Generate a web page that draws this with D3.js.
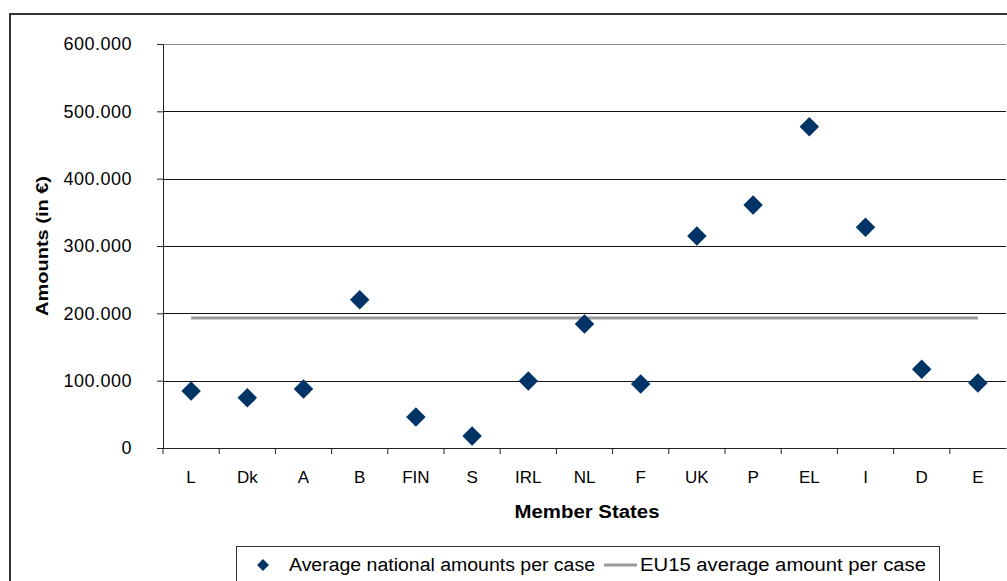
<!DOCTYPE html>
<html>
<head>
<meta charset="utf-8">
<script src="https://cdn.jsdelivr.net/npm/d3@7"></script>
<style>
  body { margin: 0; background: #fff; }
  svg { display: block; font-family: "Liberation Sans", Arial, sans-serif; }
</style>
</head>
<body>
<svg id="viz" width="1007" height="581"></svg>
<script>
// member states, left to right as in the chart
var states = ['L', 'Dk', 'A', 'B', 'FIN', 'S', 'IRL', 'NL', 'F', 'UK', 'P', 'EL', 'I', 'D', 'E'];
// average national amounts per case (in €)
var amounts = [84500, 74500, 87500, 220000, 46000, 18000, 99500, 184000, 95000, 315000, 361000, 477000, 328000, 117000, 96500];
// EU15 average amount per case
var euAverage = [193000];
var yTicks = [0, 100000, 200000, 300000, 400000, 500000, 600000];

var viz = d3.select('#viz');
var plotLeft = 163, plotTop = 44, plotRight = 1006, plotBottom = 448;

// outer frame of the chart, cut off at right and bottom like the original
viz.append('path')
	.attr('d', 'M10,600 L10,14 L1020,14')
	.attr('fill', 'none')
	.attr('stroke', '#333')
	.attr('stroke-width', 2);

var x = d3.scaleBand().domain(states).range([plotLeft, plotRight]);
var y = d3.scaleLinear().domain([0, 600000]).range([plotBottom, plotTop]);

function fmt(v) {
	return v === 0 ? '0' : d3.format(',.0f')(v).replace(/,/g, '.');
}

// gridlines
viz.append('g').selectAll('line')
	.data(yTicks.filter(function(d) { return d > 0; }))
	.enter().append('line')
		.attr('x1', plotLeft).attr('x2', plotRight)
		.attr('y1', function(d) { return Math.round(y(d)) + 0.5; })
		.attr('y2', function(d) { return Math.round(y(d)) + 0.5; })
		.attr('stroke', function(d) { return d === 600000 ? '#888' : '#111'; })
		.attr('stroke-width', 1);

// y axis
var yAxis = viz.append('g')
	.attr('transform', 'translate(' + plotLeft + ',0)')
	.call(d3.axisLeft(y).tickValues(yTicks).tickFormat(fmt).tickSizeOuter(0).tickSize(6).tickPadding(25));
yAxis.select('.domain').attr('stroke', '#222');
yAxis.selectAll('line').attr('stroke', '#222');
yAxis.selectAll('text').attr('font-size', 18).attr('fill', '#000')
	.attr('letter-spacing', 0.5)
	.attr('font-family', '"Liberation Sans", Arial, sans-serif');

// x axis with ticks at band edges
var xAxis = viz.append('g')
	.attr('transform', 'translate(0,' + plotBottom + ')')
	.call(d3.axisBottom(x).tickSize(0).tickPadding(23));
xAxis.select('.domain').attr('stroke', '#222');
xAxis.selectAll('text').attr('font-size', 17).attr('fill', '#000')
	.attr('font-family', '"Liberation Sans", Arial, sans-serif');
viz.append('g').selectAll('line')
	.data(states)
	.enter().append('line')
		.attr('x1', function(d) { return x(d); })
		.attr('x2', function(d) { return x(d); })
		.attr('y1', plotBottom).attr('y2', plotBottom + 6)
		.attr('stroke', '#222');

// EU15 average line
var avgLine = d3.line()
	.x(function(d) { return x(d) + x.bandwidth() / 2; })
	.y(function() { return y(euAverage[0]); });
viz.append('path')
	.datum([states[0], states[states.length - 1]])
	.attr('d', avgLine)
	.attr('fill', 'none')
	.attr('stroke', '#999')
	.attr('stroke-width', 3);

// diamonds
var diamond = d3.symbol().type(d3.symbolSquare).size(190);
viz.append('g').selectAll('path')
	.data(states)
	.enter().append('path')
		.attr('d', diamond)
		.attr('transform', function(d, i) {
			return 'translate(' + (x(d) + x.bandwidth() / 2) + ',' + y(amounts[i]) + ') rotate(45)';
		})
		.attr('fill', '#003366');

// axis titles
viz.append('text')
	.attr('transform', 'translate(48,' + ((plotTop + plotBottom) / 2) + ') rotate(-90)')
	.attr('text-anchor', 'middle')
	.attr('font-size', 17).attr('font-weight', 'bold')
	.attr('textLength', 140).attr('lengthAdjust', 'spacingAndGlyphs')
	.text('Amounts (in €)');
viz.append('text')
	.attr('x', 587).attr('y', 518)
	.attr('text-anchor', 'middle')
	.attr('font-size', 18).attr('font-weight', 'bold')
	.attr('textLength', 145).attr('lengthAdjust', 'spacingAndGlyphs')
	.text('Member States');

// legend
var legend = viz.append('g');
legend.append('rect')
	.attr('x', 236.5).attr('y', 546.5).attr('width', 703).attr('height', 50)
	.attr('fill', '#fff').attr('stroke', '#333');
legend.append('path')
	.attr('d', d3.symbol().type(d3.symbolSquare).size(70))
	.attr('transform', 'translate(263,565) rotate(45)')
	.attr('fill', '#003366');
legend.append('text')
	.attr('x', 289).attr('y', 571)
	.attr('font-size', 18)
	.attr('textLength', 306).attr('lengthAdjust', 'spacingAndGlyphs')
	.text('Average national amounts per case');
legend.append('line')
	.attr('x1', 604).attr('x2', 637).attr('y1', 565).attr('y2', 565)
	.attr('stroke', '#999').attr('stroke-width', 3);
legend.append('text')
	.attr('x', 640).attr('y', 571)
	.attr('font-size', 18)
	.attr('textLength', 286).attr('lengthAdjust', 'spacingAndGlyphs')
	.text('EU15 average amount per case');
</script>
</body>
</html>
